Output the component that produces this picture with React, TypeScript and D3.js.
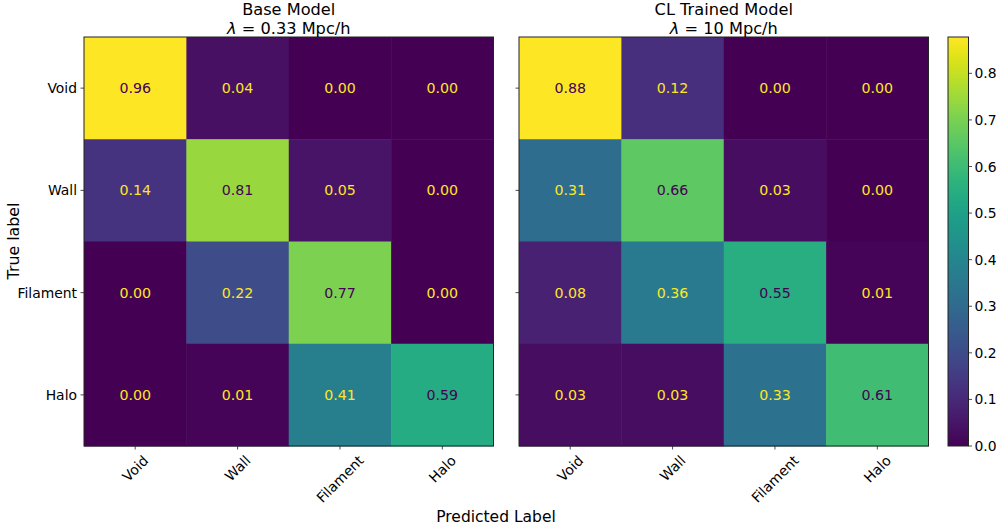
import React from "react";
import * as d3 from "d3";

const categories = ["Void", "Wall", "Filament", "Halo"];
const baseValues = [
  [0.96, 0.04, 0.0, 0.0],
  [0.14, 0.81, 0.05, 0.0],
  [0.0, 0.22, 0.77, 0.0],
  [0.0, 0.01, 0.41, 0.59],
];
const clValues = [
  [0.878, 0.12, 0.0, 0.0],
  [0.31, 0.66, 0.03, 0.0],
  [0.08, 0.36, 0.55, 0.01],
  [0.03, 0.03, 0.33, 0.61],
];
const colorbarTicks = [0, 0.1, 0.2, 0.3, 0.4, 0.5, 0.6, 0.7, 0.8];
const titles = [
  { line1: "Base Model", lam: "0.33 Mpc/h" },
  { line1: "CL Trained Model", lam: "10 Mpc/h" },
];

const W = 996;
const H = 526;
const FONT = "DejaVu Sans, Verdana, sans-serif";
const TICK_FS = 13.9;
const CELL_FS = 14.2;
const TITLE_FS = 16.2;
const TOP = 37;
const BOTTOM = 446;
const panels = [
  { x0: 84, x1: 493.5 },
  { x0: 519, x1: 928.5 },
];
const CB = { x0: 948, x1: 968.5 };

function measure(text: string, size: number): number {
  if (typeof document === "undefined") return text.length * size * 0.6;
  const c = document.createElement("canvas").getContext("2d");
  if (!c) return text.length * size * 0.6;
  c.font = `${size}px DejaVu Sans`;
  return c.measureText(text).width;
}

function fmt(v: number) {
  return v.toFixed(2);
}

function Panel({ values, idx }: { values: number[][]; idx: number }) {
  const p = panels[idx];
  const x = d3.scaleBand<string>().domain(categories).range([p.x0, p.x1]);
  const y = d3.scaleBand<string>().domain(categories).range([TOP, BOTTOM]);
  const flat = values.flat();
  const vmin = d3.min(flat) as number;
  const vmax = d3.max(flat) as number;
  const color = d3.scaleSequential(d3.interpolateViridis).domain([vmin, vmax]);
  const thresh = (vmin + vmax) / 2;
  const cx = (p.x0 + p.x1) / 2;
  const t = titles[idx];
  return (
    <g>
      {values.map((row, i) =>
        row.map((v, j) => (
          <rect
            key={`r${i}-${j}`}
            x={x(categories[j])}
            y={y(categories[i])}
            width={x.bandwidth() + 0.5}
            height={y.bandwidth() + 0.5}
            fill={color(v)}
          />
        ))
      )}
      {values.map((row, i) =>
        row.map((v, j) => (
          <text
            key={`t${i}-${j}`}
            x={(x(categories[j]) as number) + x.bandwidth() / 2}
            y={(y(categories[i]) as number) + y.bandwidth() / 2}
            textAnchor="middle"
            dominantBaseline="central"
            fontSize={CELL_FS}
            fill={v < thresh ? d3.interpolateViridis(1) : d3.interpolateViridis(0)}
          >
            {fmt(v)}
          </text>
        ))
      )}
      <rect
        x={p.x0}
        y={TOP}
        width={p.x1 - p.x0}
        height={BOTTOM - TOP}
        fill="none"
        stroke="#222"
        strokeWidth={1}
      />
      {categories.map((c) => {
        const yy = (y(c) as number) + y.bandwidth() / 2;
        return (
          <g key={`yt${c}`}>
            <line x1={p.x0 - 3.5} x2={p.x0} y1={yy} y2={yy} stroke="#222" strokeWidth={0.8} />
            {idx === 0 && (
              <text
                x={p.x0 - 7}
                y={yy}
                textAnchor="end"
                dominantBaseline="central"
                fontSize={TICK_FS}
                fill="#000"
              >
                {c}
              </text>
            )}
          </g>
        );
      })}
      {categories.map((c) => {
        const xx = (x(c) as number) + x.bandwidth() / 2;
        const w = measure(c, TICK_FS);
        const hExt = (w + TICK_FS) * Math.SQRT1_2;
        const top = BOTTOM + 7;
        return (
          <g key={`xt${c}`}>
            <line x1={xx} x2={xx} y1={BOTTOM} y2={BOTTOM + 3.5} stroke="#222" strokeWidth={0.8} />
            <text
              transform={`translate(${xx},${top + hExt / 2}) rotate(-45)`}
              textAnchor="middle"
              dominantBaseline="central"
              fontSize={TICK_FS}
              fill="#000"
            >
              {c}
            </text>
          </g>
        );
      })}
      <text x={cx} y={14.5} textAnchor="middle" fontSize={TITLE_FS} fill="#000">
        {t.line1}
      </text>
      <text x={cx} y={33.5} textAnchor="middle" fontSize={TITLE_FS} fill="#000">
        <tspan fontStyle="italic">λ</tspan>
        <tspan>{" = " + t.lam}</tspan>
      </text>
    </g>
  );
}

function Colorbar() {
  const vmax = d3.max(clValues.flat()) as number;
  const vmin = d3.min(clValues.flat()) as number;
  const yS = d3.scaleLinear().domain([vmin, vmax]).range([BOTTOM, TOP]);
  const stops = d3.range(0, 1.0001, 0.05);
  return (
    <g>
      <defs>
        <linearGradient id="vir" x1="0" y1="1" x2="0" y2="0">
          {stops.map((s) => (
            <stop key={s} offset={`${s * 100}%`} stopColor={d3.interpolateViridis(s)} />
          ))}
        </linearGradient>
      </defs>
      <rect x={CB.x0} y={TOP} width={CB.x1 - CB.x0} height={BOTTOM - TOP} fill="url(#vir)" stroke="#222" strokeWidth={1} />
      {colorbarTicks.map((tk) => (
        <g key={tk}>
          <line x1={CB.x1} x2={CB.x1 + 3.5} y1={yS(tk)} y2={yS(tk)} stroke="#222" strokeWidth={0.8} />
          <text x={CB.x1 + 6} y={yS(tk)} dominantBaseline="central" fontSize={TICK_FS} fill="#000">
            {tk.toFixed(1)}
          </text>
        </g>
      ))}
    </g>
  );
}

export default function App() {
  return (
    <svg width={W} height={H} style={{ display: "block", position: "absolute", left: 0, top: 0 }} fontFamily={FONT}>
      <rect width={W} height={H} fill="#fff" />
      <Panel values={baseValues} idx={0} />
      <Panel values={clValues} idx={1} />
      <Colorbar />
      <text x={496} y={522} textAnchor="middle" fontSize={15.5} fill="#000">
        Predicted Label
      </text>
      <text transform={`translate(19,241) rotate(-90)`} textAnchor="middle" fontSize={15.8} fill="#000">
        True label
      </text>
    </svg>
  );
}
